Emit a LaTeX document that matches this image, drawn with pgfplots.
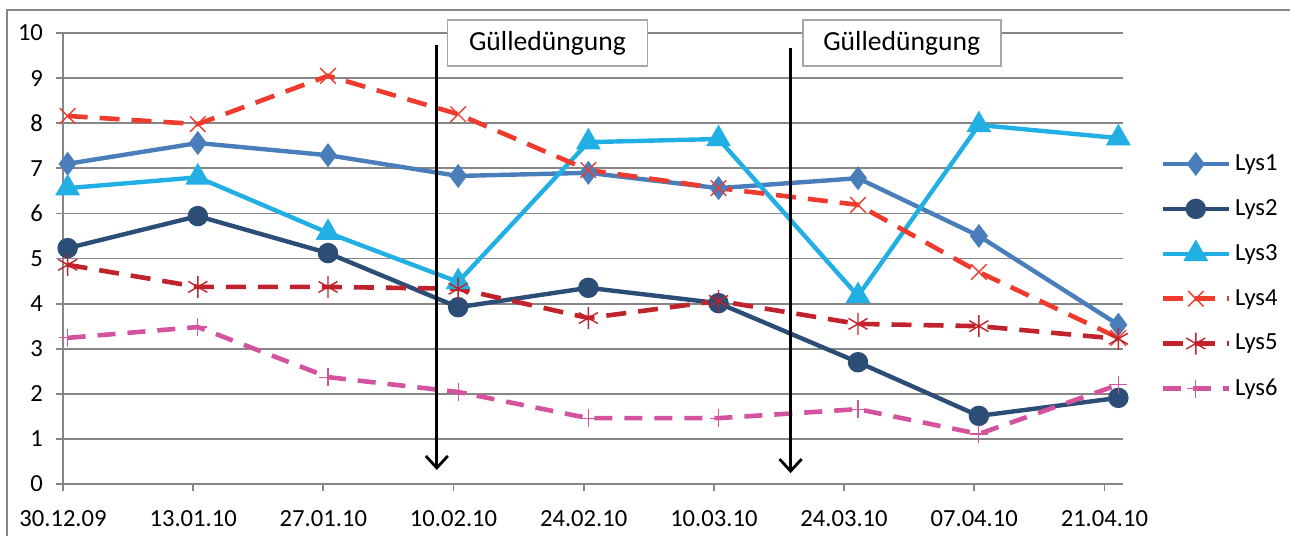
\documentclass[border=0pt]{standalone}
\usepackage{fontspec}
\setmainfont{Carlito}
\usepackage{pgfplots}
\pgfplotsset{compat=1.18}
\usetikzlibrary{arrows.meta}
\definecolor{cA}{HTML}{4A7EBB}
\definecolor{cB}{HTML}{2C4D75}
\definecolor{cC}{HTML}{22B0E4}
\definecolor{cD}{HTML}{EE3B2E}
\definecolor{cE}{HTML}{C0232C}
\definecolor{cF}{HTML}{D4539F}
\definecolor{gridgray}{HTML}{868686}
\definecolor{boxgray}{HTML}{A6A6A6}
\begin{document}
\begin{tikzpicture}
\begin{axis}[
  at={(31.5pt,26pt)}, anchor=south west,
  scale only axis, width=530pt, height=225.5pt,
  xmin=0, xmax=114, ymin=0, ymax=10,
  xtick={0,14,28,42,56,70,84,98,112},
  xticklabels={30.12.09,13.01.10,27.01.10,10.02.10,24.02.10,10.03.10,24.03.10,07.04.10,21.04.10},
  ytick={0,1,...,10},
  axis x line*=bottom, axis y line*=left,
  axis line style={gridgray, line width=0.9pt, -},
  ymajorgrids, grid style={gridgray, line width=0.9pt},
  tick style={gridgray, line width=0.9pt},
  tick align=outside, major tick length=3.5pt,
  xticklabel style={font=\fontsize{12.3}{14}\selectfont, yshift=-6pt},
  yticklabel style={font=\fontsize{12.3}{14}\selectfont, xshift=-3pt},
  /pgf/number format/assume math mode=true,
  clip=false,
  legend style={at={(1.035,0.46)}, anchor=west, draw=none, fill=none,
    font=\fontsize{12.3}{14}\selectfont, row sep=9pt, inner sep=0pt},
  legend cell align=left,
  legend image code/.code={\draw[mark repeat=2,mark phase=2] plot coordinates {(0cm,0cm) (0.58cm,0cm) (1.16cm,0cm)};},
]
\addplot[color=cA, line width=2.2pt, mark=diamond*, mark size=4.2pt] coordinates {
 (0.5,7.10) (14.5,7.56) (28.5,7.29) (42.5,6.83) (56.5,6.90) (70.5,6.56) (85.5,6.78) (98.5,5.50) (113.5,3.53)};
\addlegendentry{Lys1}
\addplot[color=cB, line width=2.2pt, mark=*, mark size=4pt] coordinates {
 (0.5,5.23) (14.5,5.94) (28.5,5.12) (42.5,3.92) (56.5,4.35) (70.5,4.01) (85.5,2.70) (98.5,1.51) (113.5,1.91)};
\addlegendentry{Lys2}
\addplot[color=cC, line width=2.2pt, mark=triangle*, mark size=5pt] coordinates {
 (0.5,6.56) (14.5,6.80) (28.5,5.57) (42.5,4.48) (56.5,7.58) (70.5,7.65) (85.5,4.17) (98.5,7.96) (113.5,7.67)};
\addlegendentry{Lys3}
\addplot[color=cD, line width=2.3pt, dash pattern=on 10pt off 6pt, mark=x, mark size=5.5pt, mark options={solid, line width=0.7pt}] coordinates {
 (0.5,8.16) (14.5,7.98) (28.5,9.05) (42.5,8.20) (56.5,6.96) (70.5,6.56) (85.5,6.19) (98.5,4.70) (113.5,3.24)};
\addlegendentry{Lys4}
\addplot[color=cE, line width=2.3pt, dash pattern=on 10pt off 6pt, mark=asterisk, mark size=5.5pt, mark options={solid, line width=0.7pt}] coordinates {
 (0.5,4.86) (14.5,4.37) (28.5,4.37) (42.5,4.33) (56.5,3.68) (70.5,4.06) (85.5,3.55) (98.5,3.50) (113.5,3.22)};
\addlegendentry{Lys5}
\addplot[color=cF, line width=2.3pt, dash pattern=on 9pt off 6pt, mark=+, mark size=4.5pt, mark options={solid, line width=0.6pt}] coordinates {
 (0.5,3.24) (14.5,3.48) (28.5,2.37) (42.5,2.04) (56.5,1.46) (70.5,1.46) (85.5,1.66) (98.5,1.11) (113.5,2.20)};
\addlegendentry{Lys6}
\draw[line width=1.4pt, -{Straight Barb[length=6pt,width=11pt,line width=1.4pt]}] (axis cs:40.2,9.73) -- (axis cs:40.2,0.31);
\draw[line width=1.4pt, -{Straight Barb[length=6pt,width=11pt,line width=1.4pt]}] (axis cs:78.25,9.67) -- (axis cs:78.25,0.24);
\node[draw=boxgray, line width=0.8pt, fill=white, minimum width=100pt, minimum height=23pt, inner sep=0pt, font=\fontsize{13.8}{16}\selectfont] at (axis cs:52.1,9.78) {Gülledüngung};
\node[draw=boxgray, line width=0.8pt, fill=white, minimum width=99pt, minimum height=23pt, inner sep=0pt, font=\fontsize{13.8}{16}\selectfont] at (axis cs:90.2,9.78) {Gülledüngung};
\end{axis}
\draw[gridgray, line width=0.9pt] (3.5pt,0pt) -- (3.5pt,263pt) -- (645pt,263pt);
\pgfresetboundingbox
\path[use as bounding box] (0pt,0pt) rectangle (645pt,268pt);
\end{tikzpicture}
\end{document}
